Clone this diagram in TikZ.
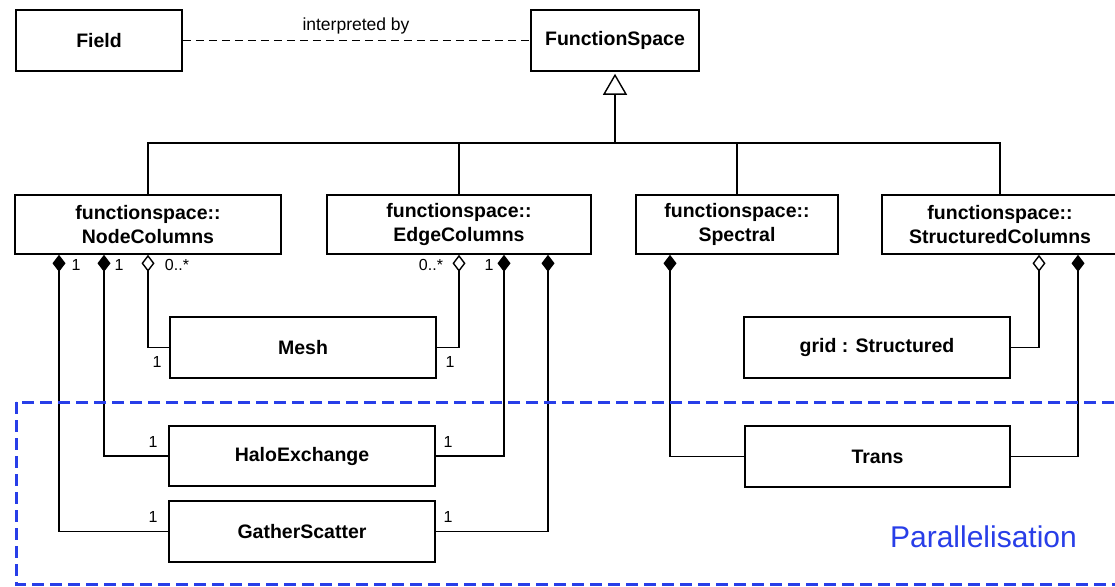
\documentclass[tikz,border=0pt]{standalone}
\usepackage{fontspec}
\setmainfont{Liberation Sans}
\usetikzlibrary{arrows.meta,calc}
\definecolor{parblue}{RGB}{40,62,232}
\begin{document}
\begin{tikzpicture}[x=1pt,y=-1pt,
  box/.style={draw, line width=1.6pt, inner sep=0pt, align=center,
    font=\fontsize{19.5}{24}\selectfont\bfseries},
  link/.style={line width=1.4pt},
  comp/.style={link, {Diamond[length=17pt,width=13pt]}-},
  aggr/.style={link, {Diamond[open,length=17pt,width=13pt]}-},
  mult/.style={font=\fontsize{16}{18}\selectfont, inner sep=0pt},
]
\clip (0,0) rectangle (1115,586);
\fill[white] (0,0) rectangle (1115,586);
% classes
\node[box, minimum width=166pt, minimum height=61pt] (field) at (99,40.5) {Field};
\node[box, minimum width=168pt, minimum height=61pt] (fs) at (615,40.5) {FunctionSpace};
\node[box, minimum width=266pt, minimum height=59pt] (nc) at (148,224.5) {functionspace::\\NodeColumns};
\node[box, minimum width=264pt, minimum height=59pt] (ec) at (459,224.5) {functionspace::\\EdgeColumns};
\node[box, minimum width=202pt, minimum height=59pt] (sp) at (737,224.5) {functionspace::\\Spectral};
\node[box, minimum width=236pt, minimum height=59pt] (sc) at (1000,224.5) {functionspace::\\StructuredColumns};
\node[box, minimum width=266pt, minimum height=61pt] (mesh) at (303,347.5) {Mesh};
\node[box, minimum width=266pt, minimum height=60pt] (halo) at (302,456) {HaloExchange};
\node[box, minimum width=266pt, minimum height=61pt] (gs) at (302,531.5) {GatherScatter};
\node[box, minimum width=266pt, minimum height=61pt] (grid) at (877,347.5) {grid : Structured};
\node[box, minimum width=265pt, minimum height=61pt] (trans) at (877.5,456.5) {Trans};
% association
\draw[line width=1.5pt, dash pattern=on 8pt off 5pt] (field) -- (fs);
\node[font=\fontsize{17.5}{20}\selectfont, inner sep=0pt] (interp) at (356,26) {interpreted by};
% inheritance
\coordinate (j) at (615,143);
\draw[link, -{Triangle[open,length=21pt,width=24pt]}, shorten >=2pt] (j) -- (fs.south);
\draw[link] (nc.north) |- (j) -| (sc.north);
\draw[link] (ec.north) -- (ec.north |- j);
\draw[link] (sp.north) -- (sp.north |- j);
% compositions / aggregations
\draw[comp] ($(nc.south)+(-89,0)$) |- (gs.west);
\draw[comp] ($(nc.south)+(-44,0)$) |- (halo.west);
\draw[aggr] (nc.south) |- (mesh.west);
\draw[aggr] (ec.south) |- (mesh.east);
\draw[comp] ($(ec.south)+(45,0)$) |- (halo.east);
\draw[comp] ($(ec.south)+(89,0)$) |- (gs.east);
\draw[comp] ($(sp.south)+(-67,0)$) |- (trans.west);
\draw[aggr] ($(sc.south)+(39,0)$) |- (grid.east);
\draw[comp] ($(sc.south)+(78,0)$) |- (trans.east);
% multiplicities
\node[mult] (m1) at (76,265) {1};
\node[mult] (m2) at (119,265) {1};
\node[mult] (m3) at (177,265) {0..*};
\node[mult] (m4) at (431,265) {0..*};
\node[mult] (m5) at (489,265) {1};
\node[mult] (m6) at (157,362) {1};
\node[mult] (m7) at (450,362) {1};
\node[mult] (m8) at (153,442) {1};
\node[mult] (m9) at (448,442) {1};
\node[mult] (m10) at (153,517) {1};
\node[mult] (m11) at (448,517) {1};
% parallelisation region
\draw[parblue, line width=3pt, dash pattern=on 12pt off 6pt] (16,402) rectangle (1130,584);
\node[text=parblue, font=\fontsize{30}{34}\selectfont, anchor=base, inner sep=0pt] (par) at (983.5,547) {Parallelisation};
\end{tikzpicture}
\end{document}
